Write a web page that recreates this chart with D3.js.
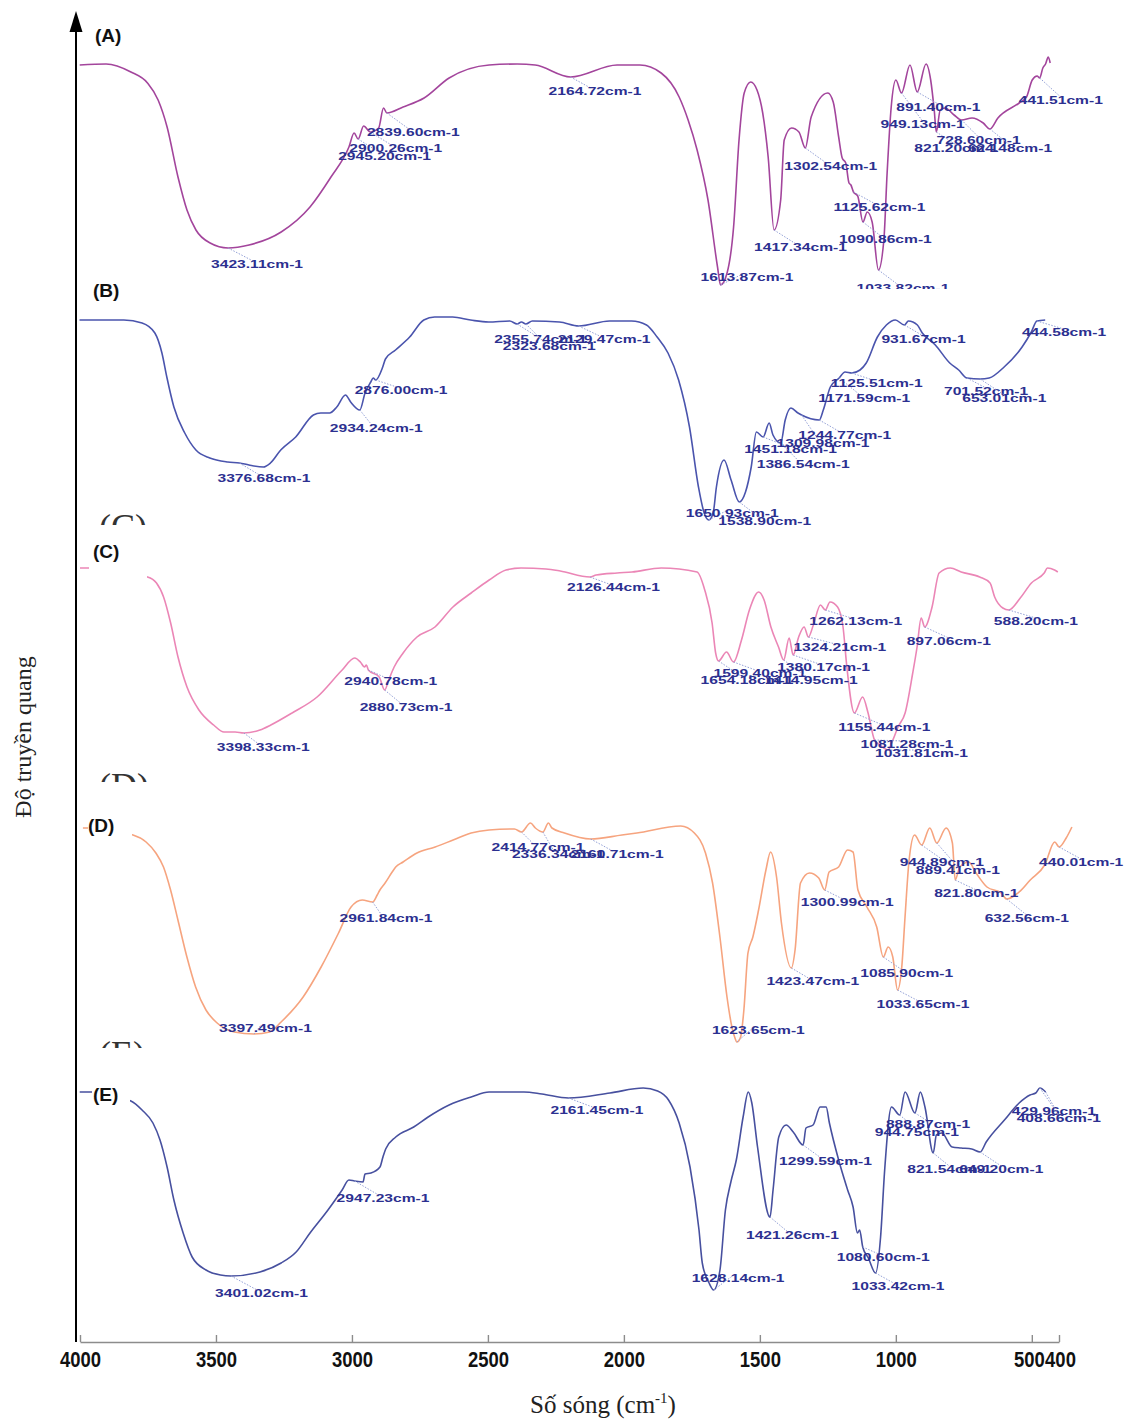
<!DOCTYPE html>
<html>
<head>
<meta charset="utf-8">
<script src="https://cdn.jsdelivr.net/npm/d3@7/dist/d3.min.js"></script>
<style>
  body { margin: 0; background: #fff; }
  svg { display: block; }
</style>
</head>
<body>
<svg id="chart" width="1127" height="1419"></svg>
<script>
// FTIR spectra, wavenumber (cm-1) vs transmittance (a.u.)

// ---- spectrum A ----
const specA = [
  [3968,112.5],[3871,113],[3780,109],[3719,103.5],[3680,95],[3647,81.5],[3607,56.5],[3574,40],
  [3541,30],[3489,23.5],[3423.11,21],[3346,22.5],[3228,29],[3122,41.5],[3045,56.5],[2979,71.5],
  [2960,78.5],[2945.20,75.5],[2925,82],[2900.26,79],[2870,81],[2852,91],[2839.60,88.5],[2780,91.5],
  [2703,96],[2611,106],[2464,112.5],[2361,113],[2295,112.5],[2164.72,106.5],[1994,112.5],[1910,112.5],
  [1832,108.5],[1766,96.5],[1733,85],[1700,70],[1660,45],[1625,11.5],[1613.87,2.5],[1590,8.5],
  [1566,31.5],[1546,75],[1527,98.5],[1503,104],[1480,100],[1459,88.5],[1439,66.5],[1417.34,30],
  [1393,45],[1380,75],[1353,81],[1326,79],[1302.54,71],[1281,86.5],[1220,98.5],[1200,94],
  [1180,76.5],[1167,66],[1154,63.5],[1142,53.5],[1135,52.5],[1125.62,49],[1110,47],[1090.86,34],
  [1075,39],[1057,34],[1033.82,10],[1014,25],[1002,58.5],[987,91.5],[970,105],[949.13,98.5],
  [918,112.5],[891.40,99],[859,113],[842,105],[829,90],[821.20,79],[807,90],[789,91],
  [756,87.5],[728.60,85],[690,86],[649,83.5],[624.48,80.5],[595,86],[517,93.5],[490,96.5],
  [469,105],[451,107],[441.51,106],[430,111],[420,113],[410,116.5],[403,113.5]
];
const peaksA = [3423.11,2945.20,2900.26,2839.60,2164.72,1613.87,1417.34,1302.54,1125.62,1090.86,
  1033.82,949.13,891.40,821.20,728.60,624.48,441.51];

// ---- spectrum B ----
const specB = [
  [3965,105],[3802,105],[3735,103.5],[3688,98.5],[3662,88.5],[3644,76.5],[3618,61.5],[3578,48.5],
  [3537,40],[3486,36],[3420,34],[3376.68,33.5],[3342,32.5],[3289,31.5],[3263,33.5],[3225,40],
  [3170,46.5],[3105,57.5],[3078,58.5],[3045,58.5],[3019,61.5],[2987,67.5],[2968,64],[2934.24,60],
  [2915,68.5],[2894,74],[2885,76],[2876.00,75],[2850,81.5],[2840,85.5],[2803,90],[2751,96.5],
  [2699,105],[2659,106.5],[2593,106.5],[2527,105],[2461,104],[2383,104.5],[2355.74,103],[2340,104],
  [2323.68,103],[2300,104.5],[2200,104],[2129.47,102],[2016,104.5],[1935,104.5],[1880,102.5],[1841,96.5],
  [1801,88.5],[1762,75],[1722,51.5],[1689,21.5],[1668,8.5],[1650.93,5],[1635,8.5],[1623,21.5],
  [1595,35],[1569,25],[1538.90,14],[1516,19],[1495,31.5],[1476,49],[1451.18,46.5],[1429,53.5],
  [1415,47.5],[1386.54,43.5],[1370,55],[1349,61],[1323,58.5],[1309.98,57.5],[1244.77,55],[1230,60],
  [1204,71.5],[1171.59,76],[1150,79],[1125.51,78.5],[1095,80],[1072,83.5],[1031,96.5],[998,102.5],
  [965,105],[931.67,102.5],[917,104.5],[884,102.5],[866,98.5],[818,92.5],[765,83.5],[732,80],
  [701.52,76],[653.01,75.5],[620,76],[565,81.5],[499,91.5],[465,99],[444.58,104.5],[414,105]
];
const peaksB = [3376.68,2934.24,2876.00,2355.74,2323.68,2129.47,1650.93,1538.90,1451.18,1386.54,
  1309.98,1244.77,1171.59,1125.51,931.67,701.52,653.01,444.58];

// ---- spectrum C ----
const specC = [
  [4000,101],[3963,101],[3752,96.5],[3719,93.5],[3693,86.5],[3667,73.5],[3640,56.5],[3607,41.5],
  [3563,30],[3509,22.5],[3471,19],[3430,19],[3398.33,18.5],[3339,20],[3299,22.5],[3221,28.5],
  [3129,36.5],[3037,50],[2991,56],[2970,54],[2955,51.5],[2948,52.5],[2940.78,50],[2901,46.5],
  [2880.73,40],[2866,45],[2846,51.5],[2813,58.5],[2762,66.5],[2696,71.5],[2630,81.5],[2563,88.5],
  [2497,95],[2435,100],[2380,101],[2288,100.5],[2236,99.5],[2126.44,96.5],[2104,97.5],[2027,98.5],
  [1972,99],[1865,101],[1733,99],[1705,90],[1678,73.5],[1665,58.5],[1654.18,54.5],[1625,59],
  [1599.40,54],[1570,65],[1541,80],[1507,89],[1487,85],[1462,71.5],[1434,61.5],[1414.95,55],
  [1395,66],[1380.17,57.5],[1360,66.5],[1340,71.5],[1324.21,66.5],[1306,72.5],[1280,82.5],[1262.13,80],
  [1245,84],[1217,81.5],[1197,71.5],[1183,51.5],[1155.44,28.5],[1125,36.5],[1105,28.5],[1081.28,15],
  [1061,12.5],[1031.81,10],[1014,15],[995,21.5],[969,28.5],[941,48.5],[925,61.5],[910,76],
  [897.06,71.5],[870,81.5],[844,98.5],[803,101],[763,99],[695,96.5],[657,93.5],[640,86.5],
  [610,81],[588.20,80],[546,86],[505,93.5],[458,98.5],[446,101],[420,100],[408,99]
];
const peaksC = [3398.33,2940.78,2880.73,2126.44,1654.18,1599.40,1414.95,1380.17,1324.21,1262.13,
  1155.44,1081.28,1031.81,897.06,588.20];

// ---- spectrum D ----
const specD = [
  [4026,111],[4005,111],[3842,107.5],[3794,104],[3758,98.5],[3730,91.5],[3704,80],[3677,65],
  [3644,46.5],[3612,31.5],[3574,20],[3533,13.5],[3470,9],[3397.49,8],[3340,9],[3298,14],
  [3217,26.5],[3151,41.5],[3087,58.5],[3041,71.5],[3000,75],[2961.84,74],[2945,77.5],[2935,80],
  [2916,83.5],[2890,89],[2877,91.5],[2850,94],[2799,98.5],[2732,101.5],[2666,105],[2600,108.5],
  [2534,110],[2441,110.5],[2414.77,109],[2382,113.5],[2364,111],[2336.34,109],[2316,113.5],[2303,111],
  [2257,108.5],[2160.71,105.5],[2046,107.5],[1991,108.5],[1830,112],[1780,108.5],[1739,98.5],[1713,83.5],
  [1686,56.5],[1660,26.5],[1642,11.5],[1632,6.5],[1623.65,4],[1610,6.5],[1598,20],[1583,48.5],
  [1565,56.5],[1544,70],[1517,90],[1500,99],[1478,86.5],[1460,63.5],[1423.47,41],[1410,50],
  [1390,83.5],[1357,88.5],[1323,86],[1300.99,80],[1285,89],[1250,91.5],[1217,100],[1197,99],
  [1179,80],[1146,71.5],[1110,61.5],[1085.90,46.5],[1068,51.5],[1051,46.5],[1033.65,30],[1018,41.5],
  [1006,66.5],[991,95],[971,107.5],[944.89,102.5],[915,111],[889.41,103.5],[855,111],[832,103.5],
  [821.80,85],[805,91.5],[772,94],[745,88.5],[705,81.5],[653,78.5],[632.56,75.5],[587,79],
  [546,85],[493,92.5],[456,104],[440.01,101.5],[414,106],[393,111.5]
];
const peaksD = [3397.49,2961.84,2414.77,2336.34,2160.71,1623.65,1423.47,1300.99,1085.90,1033.65,
  944.89,889.41,821.80,632.56,440.01];

// ---- spectrum E ----
const specE = [
  [3957,104],[3912,104],[3769,99.5],[3728,95],[3688,88.5],[3662,80],[3636,66.5],[3611,50],
  [3577,33.5],[3544,21.5],[3493,15],[3440,12.5],[3401.02,12],[3295,14],[3217,18.5],[3162,24],
  [3111,33.5],[3045,45],[2993,55],[2968,60],[2947.23,59.5],[2916,59],[2909,63],[2887,63.5],
  [2854,66.5],[2843,71.5],[2833,75.5],[2796,81.5],[2730,86.5],[2677,91.5],[2600,97.5],[2519,101.5],
  [2453,104],[2325,104],[2259,103],[2161.45,101],[2009,103.5],[1887,106],[1834,104.5],[1794,100],
  [1755,88.5],[1715,66.5],[1682,35],[1670,18.5],[1645,8.5],[1628.14,5],[1605,15],[1585,45],
  [1565,59],[1545,70],[1520,91.5],[1501,104],[1488,98.5],[1467,76.5],[1421.26,41.5],[1410,55],
  [1389,81.5],[1362,87.5],[1336,84],[1299.59,77.5],[1289,86],[1263,87.5],[1237,96.5],[1215,96.5],
  [1203,88.5],[1169,70],[1136,55],[1116,46.5],[1100,33.5],[1092,35],[1080.60,26.5],[1060,21],
  [1033.42,13.5],[1015,31.5],[1000,65],[975,96.5],[944.75,92.5],[925,104],[888.87,93.5],[869,104],
  [852,96.5],[821.54,73.5],[810,82.5],[790,83.5],[752,76.5],[719,76],[680,75.5],[649.20,74],
  [627,79],[560,90],[506,98.5],[466,102.5],[445,103.5],[429.96,106],[408.66,104]
];
const peaksE = [3401.02,2947.23,2161.45,1628.14,1421.26,1299.59,1080.60,1033.42,944.75,888.87,
  821.54,649.20,429.96,408.66];

// ---- axis ----
const xTicks = [4000, 3500, 3000, 2500, 2000, 1500, 1000, 500, 400];
const panelTags = ["(A)", "(B)", "(C)", "(D)", "(E)"];
const xTitle = "Số sóng (cm";
const xTitleSup = "-1";
const yTitle = "Độ truyền quang";

// ---- layout: label offsets (dx, dy from the marked point), panel geometry ----
const labelOffsets = {
  A: [[-17,20],[-20,21],[-21,20],[-20,23],[-22,18],[-20,-4],[-20,21],[-21,22],[-20,19],[-24,21],
      [-22,22],[-21,35],[-21,19],[-22,20],[-25,24],[-22,23],[-21,26]],
  B: [[-22,19],[-30,22],[-21,14],[-23,19],[-23,26],[-21,17],[-23,-3],[-21,23],[-19,16],[-24,25],
      [-25,32],[-21,19],[-21,24],[-21,14],[-23,18],[-23,17],[-18,23],[-15,15]],
  C: [[-27,18],[-24,15],[-25,21],[-23,14],[-18,23],[-20,15],[-19,24],[-16,16],[-15,14],[-16,15],
      [-16,18],[-14,8],[-13,7],[-18,18],[-15,15]],
  D: [[-35,-2],[-33,20],[-30,19],[-31,26],[-20,19],[-25,-8],[-25,17],[-24,16],[-23,20],[-21,18],
      [-22,21],[-21,31],[-21,17],[-22,23],[-20,19]],
  E: [[-16,21],[-18,21],[-18,16],[-22,-8],[-24,22],[-24,20],[-26,14],[-24,17],[-25,21],[-29,15],
      [-26,20],[-21,21],[-28,27],[-29,30]]
};
// horizontal nudges for crowded tick labels at the right end
const tickNudge = { 500: -3, 400: 1 };

const panels = [
  { key: "A", spec: specA, peaks: peaksA, color: "#a3459c", band: [0, 289], bottom: 290,
    xRange: [71, 1051], tag: [95, 42] },
  { key: "B", spec: specB, peaks: peaksB, color: "#4a54ad", band: [289, 525], bottom: 530,
    xRange: [70, 1049], tag: [93, 297], ghost: { text: "(C)", x: 99, y: 539 } },
  { key: "C", spec: specC, peaks: peaksC, color: "#eb86b6", band: [525, 782], bottom: 770,
    xRange: [80, 1060], tag: [93, 558], mask: [89, 540, 58, 46], ghost: { text: "(D)", x: 99, y: 798 } },
  { key: "D", spec: specD, peaks: peaksD, color: "#f6a47f", band: [782, 1048], bottom: 1050,
    xRange: [90, 1070], tag: [88, 832], mask: [88, 813, 44, 32], ghost: { text: "(E)", x: 99, y: 1066 } },
  { key: "E", spec: specE, peaks: peaksE, color: "#47509f", band: [1048, 1340], bottom: 1300,
    xRange: [68, 1048], tag: [93, 1101], mask: [92, 1081, 38, 25] }
];

const svg = d3.select("#chart");
svg.append("rect").attr("width", 1127).attr("height", 1419).attr("fill", "#fff");

const fmt = d3.format(".2f");

function valueAt(spec, wn) {
  for (let i = 0; i < spec.length - 1; i++) {
    const [w0, v0] = spec[i], [w1, v1] = spec[i + 1];
    if ((w0 - wn) * (w1 - wn) <= 0) {
      const t = w0 === w1 ? 0 : (wn - w0) / (w1 - w0);
      return v0 + t * (v1 - v0);
    }
  }
  return spec[spec.length - 1][1];
}

panels.forEach(p => {
  const g = svg.append("g").attr("class", "panel panel-" + p.key);
  const x = d3.scaleLinear().domain([4000, 400]).range(p.xRange);
  const y = d3.scaleLinear().domain([0, 100]).range([p.bottom, p.bottom - 200]);

  // white backing of the panel
  g.append("rect")
    .attr("x", 78).attr("y", p.band[0])
    .attr("width", 1127 - 78).attr("height", p.band[1] - p.band[0])
    .attr("fill", "#fff");

  const line = d3.line()
    .x(d => x(d[0]))
    .y(d => y(d[1]))
    .curve(d3.curveMonotoneX);

  g.append("path")
    .datum(p.spec)
    .attr("d", line)
    .attr("fill", "none")
    .attr("stroke", p.color)
    .attr("stroke-width", 1.6)
    .attr("stroke-linejoin", "round");

  // peak annotations
  const offs = labelOffsets[p.key];
  p.peaks.forEach((wn, i) => {
    const px = x(wn), py = y(valueAt(p.spec, wn));
    const [dx, dy] = offs[i];
    const tx = px + dx, ty = py + dy;
    g.append("line")
      .attr("x1", px).attr("y1", py)
      .attr("x2", tx + 42).attr("y2", ty - 7)
      .attr("stroke", "#93a0d6")
      .attr("stroke-width", 1)
      .attr("stroke-dasharray", "1.5,1.5");
    g.append("text")
      .attr("transform", `translate(${tx},${ty}) scale(1.42,1)`)
      .attr("font-family", "'Liberation Sans', Arial, sans-serif")
      .attr("font-weight", "bold")
      .attr("font-size", 11)
      .attr("fill", "#2c3090")
      .text(fmt(wn) + "cm-1");
  });

  // large tag of the following panel, mostly hidden under it
  if (p.ghost) {
    g.append("text")
      .attr("x", p.ghost.x).attr("y", p.ghost.y)
      .attr("font-family", "'Liberation Serif', 'Times New Roman', serif")
      .attr("font-size", 36)
      .attr("fill", "#333")
      .text(p.ghost.text);
  }
});

// panel tags drawn over their white boxes
panels.forEach((p, i) => {
  if (p.mask) {
    svg.append("rect")
      .attr("x", p.mask[0]).attr("y", p.mask[1])
      .attr("width", p.mask[2]).attr("height", p.mask[3])
      .attr("fill", "#fff");
  }
  svg.append("text")
    .attr("x", p.tag[0]).attr("y", p.tag[1])
    .attr("font-family", "'Liberation Sans', Arial, sans-serif")
    .attr("font-weight", "bold")
    .attr("font-size", 19)
    .attr("fill", "#111")
    .text(panelTags[i]);
});

// x axis
const xAxisScale = d3.scaleLinear().domain([4000, 400]).range([80, 1059]);
const axisG = svg.append("g")
  .attr("transform", "translate(0,1342)")
  .call(d3.axisBottom(xAxisScale).tickValues(xTicks).tickSize(-7).tickSizeOuter(0).tickFormat(d3.format("d")));
axisG.select(".domain").attr("stroke", "#8c8c8c").attr("stroke-width", 1.6);
axisG.selectAll(".tick line").attr("stroke", "#8c8c8c").attr("stroke-width", 1.4);
axisG.selectAll(".tick text")
  .attr("y", 25).attr("dy", null)
  .attr("transform", d => `translate(${tickNudge[d] || 0},0) scale(0.84,1)`)
  .attr("font-family", "'Liberation Sans', Arial, sans-serif")
  .attr("font-weight", "bold")
  .attr("font-size", 22)
  .attr("fill", "#111");

// y axis with arrow
svg.append("line")
  .attr("x1", 76).attr("y1", 1342).attr("x2", 76).attr("y2", 28)
  .attr("stroke", "#000").attr("stroke-width", 2);
svg.append("path")
  .attr("d", d3.line()([[76, 11], [69.5, 32], [82.5, 32]]) + "Z")
  .attr("fill", "#000");

// axis titles
const xt = svg.append("text")
  .attr("x", 603).attr("y", 1413)
  .attr("text-anchor", "middle")
  .attr("font-family", "'Liberation Serif', 'Times New Roman', serif")
  .attr("font-size", 25)
  .attr("fill", "#222");
xt.append("tspan").text(xTitle);
xt.append("tspan").attr("dy", -10).attr("font-size", 15).text(xTitleSup);
xt.append("tspan").attr("dy", 10).text(")");

svg.append("text")
  .attr("transform", "translate(31,737) rotate(-90)")
  .attr("text-anchor", "middle")
  .attr("font-family", "'Liberation Serif', 'Times New Roman', serif")
  .attr("font-size", 24)
  .attr("fill", "#222")
  .text(yTitle);
</script>
</body>
</html>
